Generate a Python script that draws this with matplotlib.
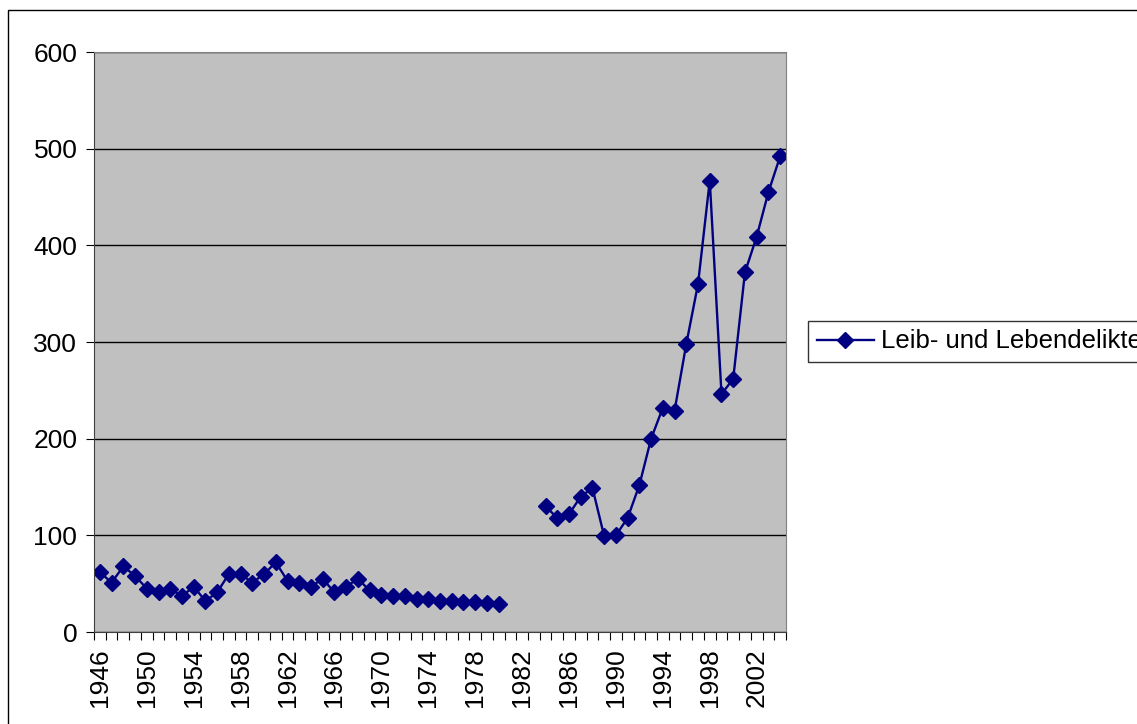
import numpy as np
import matplotlib
matplotlib.use("Agg")
import matplotlib.pyplot as plt
from matplotlib.patches import Rectangle

plt.rcParams['font.family'] = ['Liberation Sans', 'DejaVu Sans']

""" Data (read from the chart) """
years = list(range(1946, 2005))
early_years = list(range(1946, 1981))
early_values = [62, 51, 68, 58, 45, 41, 45, 37, 47, 32, 41, 60, 60, 51, 60, 72,
                53, 51, 47, 55, 41, 47, 55, 43, 38, 37, 37, 34, 34, 32, 32, 31,
                31, 30, 29]
late_years = list(range(1984, 2005))
late_values = [130, 118, 122, 140, 149, 99, 100, 118, 152, 200, 232, 229,
               298, 360, 467, 246, 262, 372, 409, 455, 492]
series_label = "Leib- und Lebendelikte"
y_ticks = [0, 100, 200, 300, 400, 500, 600]

""" Building the full series with a gap for missing years """
values = {y: np.nan for y in years}
for y, v in zip(early_years, early_values):
    values[y] = v
for y, v in zip(late_years, late_values):
    values[y] = v
pos = np.arange(len(years))
vals = np.array([values[y] for y in years], dtype=float)

fig = plt.figure(figsize=(11.37, 7.24), dpi=100)
ax = fig.add_axes([94/1137, 1-632/724, (786-94)/1137, (632-52)/724])
ax.set_facecolor("#C0C0C0")

ax.plot(pos, vals, color="#000080", lw=1.7, marker="D", markersize=8,
        label=series_label)

ax.set_xlim(-0.5, len(years) - 0.5)
ax.set_ylim(0, 600)
ax.set_yticks(y_ticks)
ax.yaxis.grid(True, color="#000000", lw=1)
ax.set_axisbelow(True)

# tick marks between categories, labels every 4 years
ax.set_xticks(np.arange(len(years) + 1) - 0.5)
ax.set_xticklabels([])
ax.set_xticks(pos[::4], minor=True)
ax.set_xticklabels([str(y) for y in years[::4]], minor=True, rotation=90)
ax.tick_params(axis="x", which="minor", length=0, pad=12, labelsize=19)
ax.tick_params(axis="x", which="major", length=6, direction="out")
ax.tick_params(axis="y", length=6, labelsize=19, pad=6)

for side in ["top", "right"]:
    ax.spines[side].set_color("#808080")
ax.spines["left"].set_color("#404040")
ax.spines["bottom"].set_color("#404040")

leg = ax.legend(loc="center left", bbox_to_anchor=(808/1137, 1-341.5/724),
                bbox_transform=fig.transFigure, borderaxespad=0, fancybox=False,
                frameon=True, edgecolor="black", fontsize=18.5, handlelength=2.2,
                borderpad=0.35, handletextpad=0.3)
leg.get_frame().set_linewidth(1)

# outer chart border
fig.patches.append(Rectangle((8/1137, -0.1), 1.2, (724-10)/724 + 0.1,
                             transform=fig.transFigure, fill=False,
                             edgecolor="black", lw=1))

fig.savefig("out.png", dpi=100)
